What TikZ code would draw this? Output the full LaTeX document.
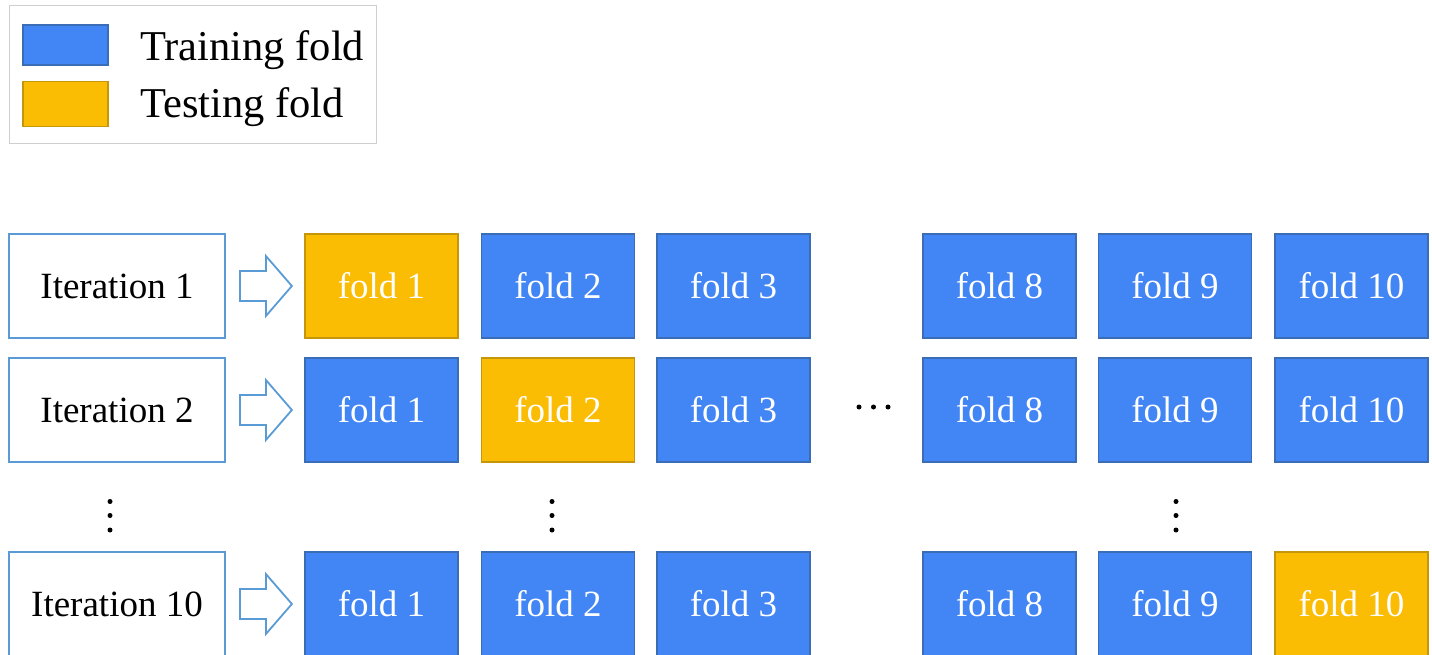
\documentclass[tikz,border=0pt]{standalone}
\usepackage{fontspec}
\setmainfont{Liberation Serif}
\definecolor{trainblue}{HTML}{4285F4}
\definecolor{trainedge}{HTML}{3A6DB5}
\definecolor{testyellow}{HTML}{FBBC04}
\definecolor{testedge}{HTML}{C4960C}
\definecolor{iteredge}{HTML}{5B9BD5}
\definecolor{legendedge}{HTML}{CFCFCF}
\begin{document}
\begin{tikzpicture}[x=1pt,y=-1pt,
  foldbox/.style={minimum width=153pt, minimum height=104pt, inner sep=0pt,
    text=white, font=\fontsize{37}{44}\selectfont, line width=1.5pt},
  train/.style={foldbox, fill=trainblue, draw=trainedge},
  test/.style={foldbox, fill=testyellow, draw=testedge},
  iterbox/.style={draw=iteredge, line width=1.8pt, fill=white,
    minimum width=216pt, minimum height=104pt, inner sep=0pt,
    font=\fontsize{37}{44}\selectfont},
  blockarrow/.style={draw=iteredge, line width=1.8pt, fill=white, line join=miter},
  legendtext/.style={anchor=base west, inner sep=0pt, font=\fontsize{42.5}{50}\selectfont},
  dot/.style={circle, fill=black, inner sep=0pt, minimum size=5pt}]
\useasboundingbox (0,0) rectangle (1432,655);

% legend
\node[draw=legendedge, line width=1pt, minimum width=367pt, minimum height=138pt,
  inner sep=0pt] (legend) at (192.5,75) {};
\node[draw=trainedge, fill=trainblue, line width=1.5pt, minimum width=85pt,
  minimum height=40pt, inner sep=0pt] (swtrain) at (65.5,45) {};
\node[draw=testedge, fill=testyellow, line width=1.5pt, minimum width=85pt,
  minimum height=45pt, inner sep=0pt] (swtest) at (65.5,104) {};
\node[legendtext] (lgtrain) at (140,61) {Training fold};
\node[legendtext] (lgtest) at (140,118) {Testing fold};

% iteration rows: name / row centre / label / index of the testing fold
\foreach \r/\y/\lab/\t in {1/286/1/1, 2/410/2/2, 3/604/10/10}{
  \node[iterbox] (it\r) at (117,\y) {Iteration \lab};
  \begin{scope}[shift={(it\r.east)}]
    \draw[blockarrow] (14,-15) -- (40,-15) -- (40,-30) -- (66,0)
      -- (40,30) -- (40,15) -- (14,15) -- cycle;
  \end{scope}
  \foreach \k/\x in {1/381.5, 2/558, 3/733.5, 8/999.5, 9/1175, 10/1351.5}{
    \ifnum\k=\t
      \node[test] (f\r-\k) at (\x,\y) {fold \k};
    \else
      \node[train] (f\r-\k) at (\x,\y) {fold \k};
    \fi
  }
}

% ellipses
\foreach \x [count=\i] in {859,873.5,888}
  \node[dot] (hd\i) at (\x,407) {};
\foreach \x [count=\c] in {110,552,1176}
  \foreach \y [count=\i] in {501.5,515.5,530}
    \node[dot] (vd\c-\i) at (\x,\y) {};
\end{tikzpicture}
\end{document}
